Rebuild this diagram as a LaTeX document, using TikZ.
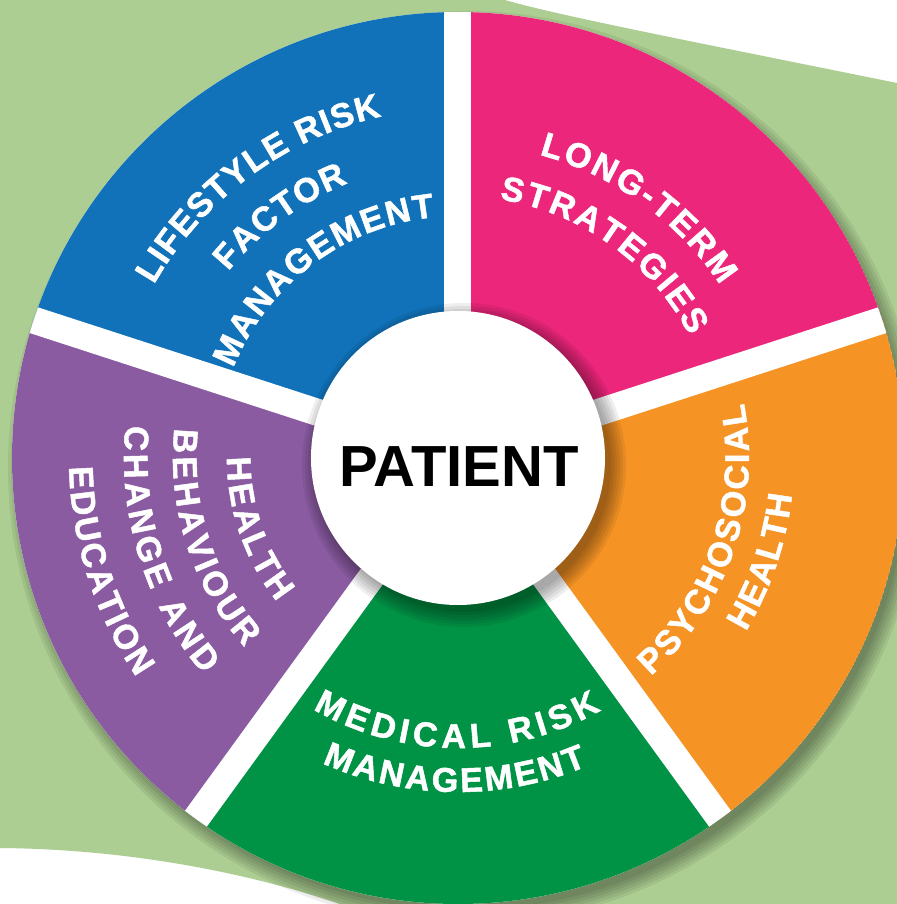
\documentclass[tikz,border=0pt]{standalone}
\usepackage{fontspec}
\setmainfont{Liberation Sans}
\newfontfamily\wheelface{Liberation Sans}[FakeBold=1.4]
\usetikzlibrary{calc,decorations.text}

\definecolor{leafgreen}{RGB}{172,206,146}
\definecolor{wheelblue}{RGB}{17,114,185}
\definecolor{wheelpink}{RGB}{236,38,123}
\definecolor{wheelorange}{RGB}{246,147,37}
\definecolor{wheelgreen}{RGB}{0,146,69}
\definecolor{wheelpurple}{RGB}{138,91,161}

\newcommand{\wheelfont}{\color{white}\wheelface\fontsize{19.5}{20}\selectfont\bfseries}

\tikzset{
  wheeltext/.style={decorate, decoration={text along path, text align={fit to path}, text={|\wheelfont|#1}}},
  gapline/.style={white, line width=0.54cm},
  softshade/.style={fill=black, fill opacity=0.065}
}

\begin{document}
\begin{tikzpicture}[scale=0.2]
    \tikzstyle{every node}+=[inner sep=0pt]
    \useasboundingbox (0,0) rectangle (89.7,-90.4);
    \fill [white] (0,0) rectangle (89.7,-90.4);
    \fill [leafgreen] (0,0) -- (50.5,0) .. controls (56,-1.6) and (70,-4.3) .. (89.7,-8.3) -- (89.7,-90.4) -- (34,-90.4) .. controls (24,-87) and (12,-84.9) .. (0,-84.8) -- cycle;
    \coordinate (ctr) at (45.8,-45.8);
    \foreach \r in {44.2,44.5,44.8,45.1,45.4,45.7}
      \fill [softshade] ($(ctr)+(0.7,-1.0)$) circle (\r);
    \begin{scope}
    \clip (ctr) circle (44.6);
    \fill [white] (ctr) circle (44.6);
    \fill [wheelblue] (ctr) -- ($(ctr)+(90:46)$) arc (90:162:46) -- cycle;
    \fill [wheelpink] (ctr) -- ($(ctr)+(18:46)$) arc (18:90:46) -- cycle;
    \fill [wheelorange] (ctr) -- ($(ctr)+(-54:46)$) arc (-54:18:46) -- cycle;
    \fill [wheelgreen] (ctr) -- ($(ctr)+(-126:46)$) arc (-126:-54:46) -- cycle;
    \fill [wheelpurple] (ctr) -- ($(ctr)+(162:46)$) arc (162:234:46) -- cycle;
    \foreach \a in {90,18,-54,-126,162}
      \draw [gapline] (ctr) -- ($(ctr)+(\a:46)$);
    \foreach \r in {14.7,15.0,15.3,15.6,15.9,16.2}
      \fill [softshade] ($(ctr)+(0.6,-0.7)$) circle (\r);
    \end{scope}
    \node [circle, fill=white, minimum size=5.88cm] (hub) at (ctr) {};
    \node [font=\fontsize{33}{33}\selectfont\bfseries] (patient) at ($(ctr)+(0.1,-0.9)$) {PATIENT};
    \path [wheeltext={LIFESTYLE RISK}] ($(ctr)+(150.3:35)$) arc (150.3:102.6:35);
    \path [wheeltext={FACTOR}] ($(ctr)+(140.9:29.6)$) arc (140.9:111.8:29.6);
    \path [wheeltext={MANAGEMENT}] ($(ctr)+(158.2:24.2)$) arc (158.2:95.5:24.2);
    \path [wheeltext={LONG-TERM}] ($(ctr)+(75:31.4)$) arc (75:33.4:31.4);
    \path [wheeltext={STRATEGIES}] ($(ctr)+(80.9:26.2)$) arc (80.9:27.8:26.2);
    \path [wheeltext={PSYCHOSOCIAL}] ($(ctr)+(-48.5:29.1)$) arc (-48.5:10.8:29.1);
    \path [wheeltext={HEALTH}] ($(ctr)+(-31.1:33.6)$) arc (-31.1:-6.3:33.6);
    \path [wheeltext={MEDICAL RISK}] ($(ctr)+(-120:29)$) arc (-120:-60.4:29);
    \path [wheeltext={MANAGEMENT}] ($(ctr)+(-114:33.4)$) arc (-114:-67.2:33.4);
    \path [wheeltext={HEALTH}] ($(ctr)+(179.8:23.1)$) arc (179.8:218.5:23.1);
    \path [wheeltext={BEHAVIOUR}] ($(ctr)+(174:28.5)$) arc (174:221.6:28.5);
    \path [wheeltext={CHANGE AND}] ($(ctr)+(174.4:33.4)$) arc (174.4:220.4:33.4);
    \path [wheeltext={EDUCATION}] ($(ctr)+(181.3:38.9)$) arc (181.3:214.3:38.9);
\end{tikzpicture}
\end{document}
